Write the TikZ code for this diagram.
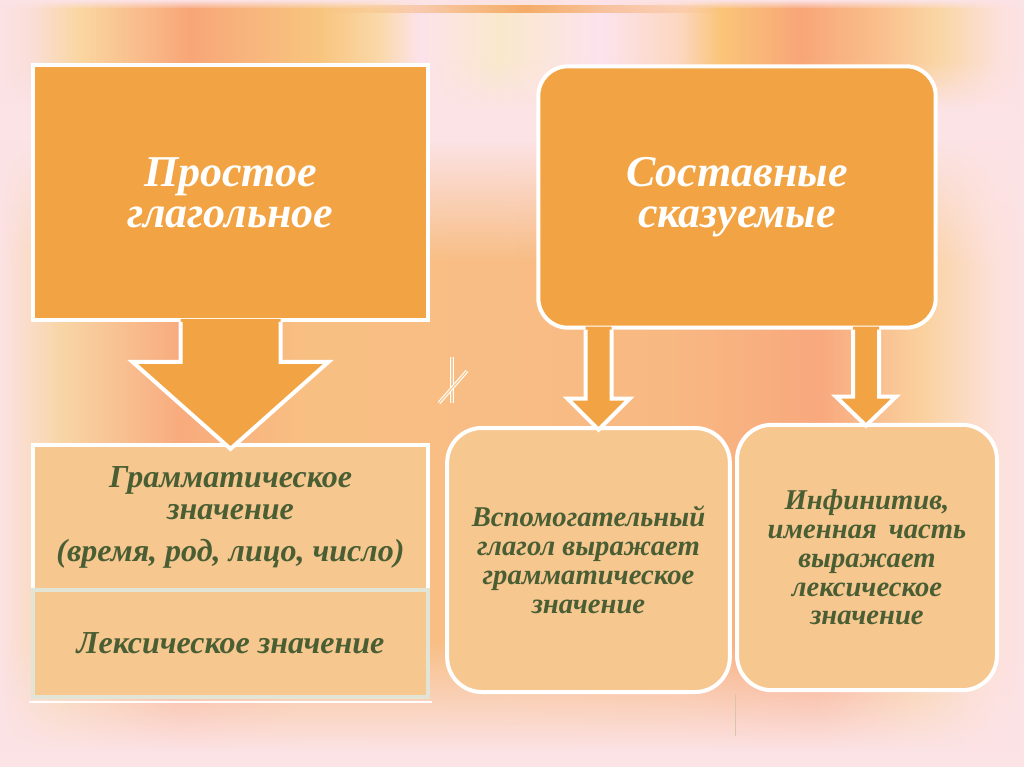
\documentclass[tikz,border=0pt]{standalone}
\usepackage{fontspec}
\setmainfont{Liberation Serif}
\usepackage{xcolor}
\usetikzlibrary{positioning, calc, fadings}

\definecolor{boxorange}{RGB}{242,164,68}
\definecolor{boxpeach}{RGB}{247,199,144}
\definecolor{textgreen}{RGB}{74,94,52}
\definecolor{bgpink}{RGB}{252,227,230}
\definecolor{lexline}{RGB}{226,228,214}
\definecolor{toporange}{RGB}{245,172,105}

\newcommand{\headfont}{\fontsize{33}{31}\selectfont\bfseries\itshape}
\newcommand{\gramfont}{\fontsize{24}{24.5}\selectfont\bfseries\itshape}
\newcommand{\notefont}{\fontsize{21.5}{21.6}\selectfont\bfseries\itshape}

% background stripes
\pgfdeclarehorizontalshading{topstripe}{100bp}{rgb(0bp)=(0.984,0.886,0.894); rgb(25bp)=(0.984,0.886,0.894); rgb(26.5bp)=(0.98,0.87,0.85); rgb(28.9bp)=(0.98,0.84,0.63); rgb(34.3bp)=(0.973,0.65,0.47); rgb(37.2bp)=(0.973,0.71,0.49); rgb(40.6bp)=(0.973,0.77,0.49); rgb(43.6bp)=(0.98,0.85,0.67); rgb(45.5bp)=(0.99,0.89,0.92); rgb(49.4bp)=(0.98,0.91,0.80); rgb(54.3bp)=(0.99,0.89,0.93); rgb(58.2bp)=(0.99,0.84,0.75); rgb(60.2bp)=(0.98,0.77,0.47); rgb(64.1bp)=(0.973,0.65,0.47); rgb(68bp)=(0.98,0.75,0.55); rgb(70.9bp)=(0.98,0.84,0.65); rgb(73.8bp)=(0.99,0.88,0.86); rgb(75bp)=(0.984,0.886,0.894); rgb(100bp)=(0.984,0.886,0.894)}
\pgfdeclarehorizontalshading{bandshade}{100bp}{rgb(0bp)=(0.984,0.886,0.894); rgb(25bp)=(0.984,0.886,0.894); rgb(28bp)=(0.973,0.835,0.65); rgb(33.8bp)=(0.973,0.67,0.49); rgb(40bp)=(0.973,0.75,0.51); rgb(50bp)=(0.973,0.74,0.52); rgb(58bp)=(0.973,0.72,0.51); rgb(65bp)=(0.973,0.66,0.49); rgb(70bp)=(0.98,0.82,0.62); rgb(73.5bp)=(0.99,0.88,0.85); rgb(75bp)=(0.984,0.886,0.894); rgb(100bp)=(0.984,0.886,0.894)}
\tikzfading[name=fade in down, top color=transparent!100, bottom color=transparent!0]
\tikzfading[name=fade out down, top color=transparent!0, bottom color=transparent!100]
\tikzfading[name=fade sides, left color=transparent!100, right color=transparent!100, middle color=transparent!0]

\tikzstyle{topbox}  = [rectangle, draw=white, line width=3pt, fill=boxorange, text=white,
                       font=\headfont, align=center]
\tikzstyle{lowbox}  = [rectangle, draw=white, line width=3pt, fill=boxpeach, text=textgreen,
                       align=center]
\tikzstyle{arrowfill} = [fill=boxorange]
\tikzstyle{arrowedge} = [draw=white, line width=3pt, line join=miter]

\begin{document}
\begin{tikzpicture}[x=0.75pt, y=-0.75pt]
    \useasboundingbox (0,0) rectangle (1024,767);
    % background
    \fill[bgpink] (0,0) rectangle (1024,767);
    \shade[shading=topstripe, path fading=fade in down] (0,0) rectangle (1024,9);
    \shade[shading=topstripe] (0,9) rectangle (1024,62);
    \shade[shading=topstripe, path fading=fade out down] (0,62) rectangle (1024,110);
    \fill[toporange, path fading=fade sides] (330,5) rectangle (720,13);
    \shade[shading=bandshade, path fading=fade in down] (0,140) rectangle (1024,262);
    \shade[shading=bandshade] (0,262) rectangle (1024,640);
    \shade[shading=bandshade, path fading=fade out down] (0,640) rectangle (1024,752);

    % boxes
    \node (simple) [topbox, minimum width=296pt, minimum height=191pt] at (230.5,192.5) {Простое\\глагольное};
    \node (compound) [topbox, rounded corners=22pt, minimum width=298pt, minimum height=196pt] at (737,197) {Составные\\сказуемые};
    \node (grammar) [lowbox, font=\gramfont, minimum width=296pt, minimum height=109pt] at (230.5,517.5) {Грамматическое\\значение\\[7pt](время, род, лицо, число)};
    \node (lexical) [lowbox, draw=lexline, font=\gramfont, minimum width=296pt, minimum height=80pt] at (230.5,643.5) {Лексическое значение};
    \node (auxiliary) [lowbox, rounded corners=26pt, font=\notefont, minimum width=212pt, minimum height=198pt] at (588.5,560) {Вспомогательный\\глагол выражает\\грамматическое\\значение};
    \node (infinitive) [lowbox, rounded corners=26pt, font=\notefont, minimum width=195pt, minimum height=199pt] at (867,557.5) {Инфинитив,\\именная\, часть\\выражает\\лексическое\\значение};

    \draw[white, line width=1.6pt] ($(lexical.south west)+(-2,3)$) -- ($(lexical.south east)+(2,3)$);
    \draw[lexline!70!brown, line width=0.5pt] ($(auxiliary.south east)+(3,0)$) -- ++(0,42);

    % block arrows
    \fill[arrowfill] ($(simple.south)+(-50,-3)$) -- ++(0,43) -- ++(-48,0) -- ++(98,87) -- ++(98,-87) -- ++(-48,0) -- ++(0,-43) -- cycle;
    \draw[arrowedge] ($(simple.south)+(-50,0)$) -- ++(0,40) -- ++(-48,0) -- ++(98,87) -- ++(98,-87) -- ++(-48,0) -- ++(0,-40);

    \fill[arrowfill] ($(auxiliary.north |- compound.south)+(-3,-3)$) -- ++(0,72) -- ++(-18,0) -- ++(31,31) -- ++(31,-31) -- ++(-18,0) -- ++(0,-72) -- cycle;
    \draw[arrowedge] ($(auxiliary.north |- compound.south)+(-3,0)$) -- ++(0,69) -- ++(-18,0) -- ++(31,31) -- ++(31,-31) -- ++(-18,0) -- ++(0,-69);

    \fill[arrowfill] ($(infinitive.north |- compound.south)+(-14,-3)$) -- ++(0,70) -- ++(-17,0) -- ++(30,29) -- ++(30,-29) -- ++(-17,0) -- ++(0,-70) -- cycle;
    \draw[arrowedge] ($(infinitive.north |- compound.south)+(-14,0)$) -- ++(0,67) -- ++(-17,0) -- ++(30,29) -- ++(30,-29) -- ++(-17,0) -- ++(0,-67);

    % stray mark
    \draw[white, double=boxorange!60, double distance=0.9pt, line width=0.8pt] (452,357) -- (452,403);
    \draw[white, double=boxorange!60, double distance=0.9pt, line width=0.8pt] (439,403) -- (467,371);
\end{tikzpicture}
\end{document}
